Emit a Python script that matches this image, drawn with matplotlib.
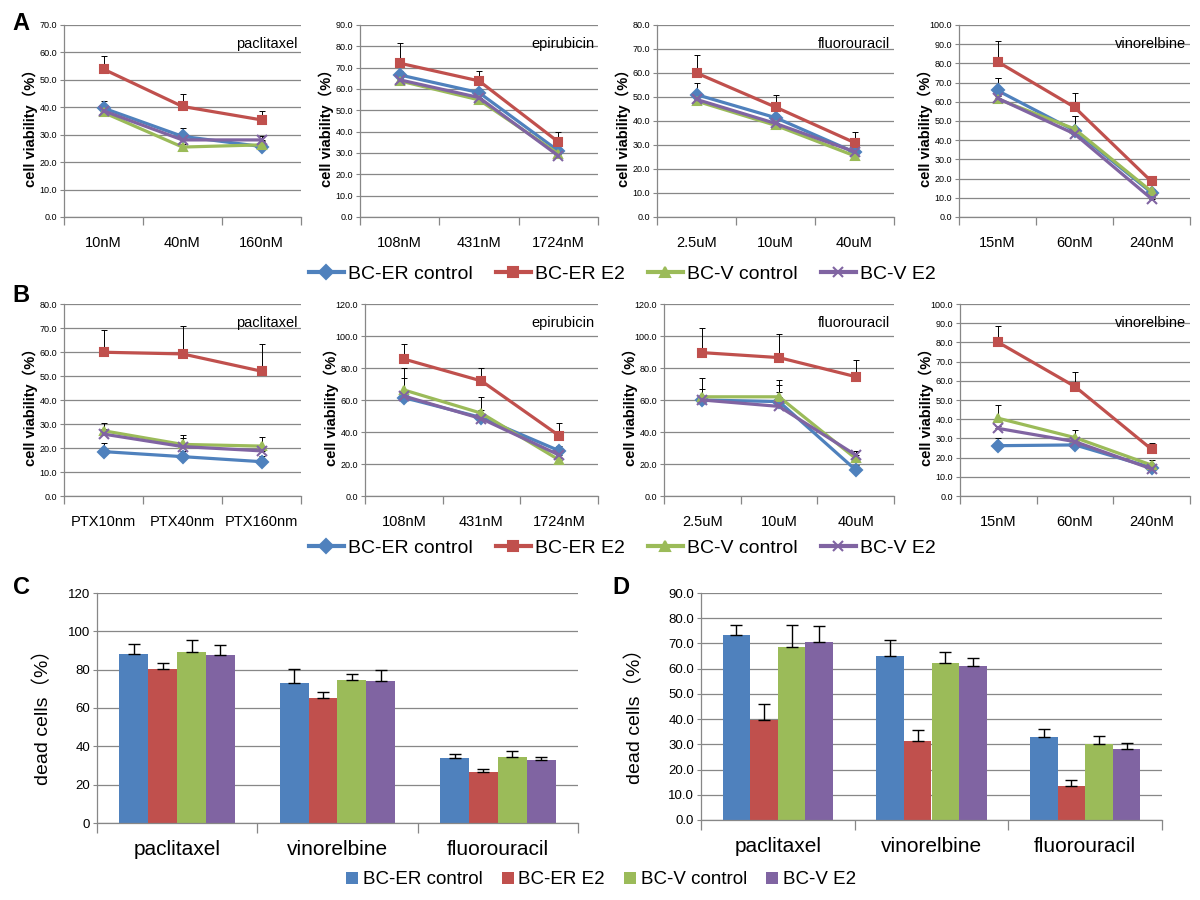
import matplotlib.pyplot as plt
import numpy as np

# series names and colours (Excel 2007 palette)
groups = ['BC-ER control', 'BC-ER E2', 'BC-V control', 'BC-V E2']
colors = ['#4F81BD', '#C0504D', '#9BBB59', '#8064A2']
markers = ['D', 's', '^', 'x']

# ---- panel A / B : cell viability (%) ----
line_drugs = ['paclitaxel', 'epirubicin', 'fluorouracil', 'vinorelbine']
a_doses = [['10nM', '40nM', '160nM'], ['108nM', '431nM', '1724nM'],
           ['2.5uM', '10uM', '40uM'], ['15nM', '60nM', '240nM']]
b_doses = [['PTX10nm', 'PTX40nm', 'PTX160nm'], ['108nM', '431nM', '1724nM'],
           ['2.5uM', '10uM', '40uM'], ['15nM', '60nM', '240nM']]
a_ymax = [70, 90, 80, 100]
a_ystep = [10, 10, 10, 10]
b_ymax = [80, 120, 120, 100]
b_ystep = [10, 20, 20, 10]

a_er_ctrl = [[39.7, 29.4, 25.7], [66.6, 58.3, 31.0], [51.0, 41.4, 27.0], [65.9, 45.0, 12.7]]
a_er_e2 = [[53.9, 40.3, 35.4], [72.1, 63.8, 35.2], [60.0, 45.8, 31.0], [80.9, 57.2, 18.5]]
a_v_ctrl = [[38.1, 25.5, 26.3], [63.8, 54.9, 29.6], [48.3, 38.2, 25.5], [61.5, 45.9, 13.3]]
a_v_e2 = [[38.7, 28.1, 28.1], [64.3, 56.0, 28.7], [49.0, 39.0, 27.2], [61.9, 43.3, 9.5]]
a_er_ctrl_err = [[2.5, 3.0, 1.5], [2.0, 1.5, 1.5], [5.0, 1.5, 1.5], [6.5, 7.5, 1.5]]
a_er_e2_err = [[4.8, 4.6, 3.1], [9.4, 4.7, 4.7], [7.6, 5.0, 4.4], [11.0, 7.4, 2.0]]
a_v_ctrl_err = [[1.5, 1.0, 1.5], [1.0, 1.0, 1.0], [1.0, 1.0, 1.0], [11.0, 6.5, 1.5]]
a_v_e2_err = [[2.0, 1.5, 1.5], [1.0, 1.0, 1.0], [1.0, 1.0, 1.0], [1.0, 1.0, 1.0]]

b_er_ctrl = [[18.5, 16.4, 14.3], [61.5, 49.0, 28.3], [60.0, 59.0, 16.3], [26.2, 26.6, 14.8]]
b_er_e2 = [[59.9, 59.2, 52.0], [85.6, 71.9, 37.7], [89.6, 86.5, 74.6], [80.0, 57.0, 24.3]]
b_v_ctrl = [[27.2, 21.5, 20.8], [66.3, 51.7, 22.5], [62.0, 62.0, 23.5], [40.5, 30.4, 16.1]]
b_v_e2 = [[25.8, 20.6, 18.8], [62.5, 48.3, 25.6], [60.0, 56.0, 25.6], [35.2, 28.3, 14.1]]
b_er_ctrl_err = [[3.5, 2.5, 2.5], [1.5, 1.5, 2.7], [6.7, 10.4, 3.1], [3.8, 1.5, 1.5]]
b_er_e2_err = [[9.3, 11.6, 11.5], [9.4, 8.3, 7.9], [15.2, 15.0, 10.2], [8.4, 7.8, 3.5]]
b_v_ctrl_err = [[3.4, 3.9, 3.6], [13.9, 10.0, 1.5], [12.0, 10.5, 4.8], [6.9, 4.0, 2.7]]
b_v_e2_err = [[2.0, 3.4, 1.5], [11.0, 5.5, 1.5], [1.5, 9.0, 2.7], [1.5, 1.5, 1.5]]

# ---- panel C / D : dead cells (%) ----
bar_drugs = ['paclitaxel', 'vinorelbine', 'fluorouracil']
c_er_ctrl = [88.3, 73.3, 33.8]
c_er_e2 = [80.1, 65.0, 26.4]
c_v_ctrl = [89.3, 74.6, 34.3]
c_v_e2 = [87.9, 74.0, 32.9]
c_er_ctrl_err = [5.2, 7.3, 2.1]
c_er_e2_err = [3.3, 3.5, 1.7]
c_v_ctrl_err = [6.2, 2.9, 3.3]
c_v_e2_err = [5.2, 5.8, 1.3]

d_er_ctrl = [73.5, 65.2, 33.0]
d_er_e2 = [39.7, 31.5, 13.6]
d_v_ctrl = [68.4, 62.2, 30.2]
d_v_e2 = [70.5, 60.9, 28.2]
d_er_ctrl_err = [3.9, 6.1, 3.0]
d_er_e2_err = [6.2, 4.1, 2.3]
d_v_ctrl_err = [9.0, 4.6, 3.2]
d_v_e2_err = [6.4, 3.3, 2.5]

W, H = 1200, 900
NARROW = ['Liberation Sans Narrow', 'Liberation Sans', 'DejaVu Sans']
SANS = ['Liberation Sans', 'Noto Sans CJK SC', 'DejaVu Sans']
GRID = '#878787'

plt.rcParams['font.family'] = SANS


def rect(l, t, r, b):
    return [l / W, 1 - b / H, (r - l) / W, (b - t) / H]


def style_axis(ax, ncat, ymax, ystep, fmt, tick_font, tick_size, catpad):
    ax.set_xlim(-0.5, ncat - 0.5)
    ax.set_ylim(0, ymax)
    yt = np.arange(0, ymax + 0.01, ystep)
    ax.set_yticks(yt)
    ax.set_yticklabels([fmt.format(v) for v in yt], family=tick_font, fontsize=tick_size)
    ax.yaxis.grid(True, color=GRID, lw=0.9)
    ax.set_axisbelow(True)
    for s in ['top', 'right']:
        ax.spines[s].set_visible(False)
    for s in ['left', 'bottom']:
        ax.spines[s].set_color(GRID)
        ax.spines[s].set_linewidth(0.9)
    ax.tick_params(axis='y', length=3, color=GRID, pad=2)
    ax.set_xticks(np.arange(ncat))
    ax.set_xticks(np.arange(ncat + 1) - 0.5, minor=True)
    ax.tick_params(axis='x', which='major', length=0, pad=catpad)
    ax.tick_params(axis='x', which='minor', length=6, color=GRID, width=0.9)


def line_panel(rc, doses, drug, ymax, ystep, series, errs):
    ax = fig.add_axes(rect(*rc))
    x = np.arange(len(doses))
    for vals, err, c, m in zip(series, errs, colors, markers):
        ax.errorbar(x, vals, yerr=[np.zeros(len(err)), err], fmt='none',
                    ecolor='black', elinewidth=0.7, capsize=2, capthick=0.7, zorder=3)
        ax.plot(x, vals, color=c, marker=m, lw=2.3, ms=6 if m != 'x' else 7,
                mew=1.5, zorder=4)
    style_axis(ax, len(doses), ymax, ystep, '{:.1f}', NARROW, 6.5, 14)
    ax.set_xticklabels(doses, family=NARROW, fontsize=10.5)
    ax.text(0.985, 0.9, drug, transform=ax.transAxes, ha='right', va='center',
            family=NARROW, fontsize=10.5)
    l, t, r, b = rc
    fig.text((l - 34) / W, 1 - ((t + b) / 2 + 4) / H, 'cell viability（%）',
             rotation=90, ha='center', va='center', fontsize=10.5, fontweight='bold',
             family=SANS)
    return ax


def bar_panel(rc, ymax, ystep, fmt, series, errs, label_x):
    ax = fig.add_axes(rect(*rc))
    x = np.arange(len(bar_drugs))
    w = 0.18
    for i, (vals, err, c) in enumerate(zip(series, errs, colors)):
        xs = x + (i - 1.5) * w
        ax.bar(xs, vals, width=w, color=c, label=groups[i], zorder=2)
        ax.errorbar(xs, vals, yerr=[np.zeros(len(err)), err], fmt='none',
                    ecolor='black', elinewidth=1.0, capsize=4, capthick=1.0, zorder=3)
    style_axis(ax, len(bar_drugs), ymax, ystep, fmt, SANS, 9.5, 12)
    ax.set_xticklabels(bar_drugs, fontsize=15)
    ax.tick_params(axis='x', which='minor', length=7)
    l, t, r, b = rc
    fig.text(label_x / W, 1 - ((t + b) / 2 + 5) / H, 'dead cells（%）',
             rotation=90, ha='center', va='center', fontsize=14, family=SANS)
    return ax


fig = plt.figure(figsize=(12, 9), dpi=100)

a_rects = [(64, 25, 301, 217), (360, 25, 598, 217), (657, 25, 894, 217), (959, 25, 1190, 217)]
b_rects = [(64, 304, 301, 496), (365, 304, 598, 496), (664, 304, 894, 496), (960, 304, 1190, 496)]

for k in range(4):
    line_panel(a_rects[k], a_doses[k], line_drugs[k], a_ymax[k], a_ystep[k],
               [a_er_ctrl[k], a_er_e2[k], a_v_ctrl[k], a_v_e2[k]],
               [a_er_ctrl_err[k], a_er_e2_err[k], a_v_ctrl_err[k], a_v_e2_err[k]])
    line_panel(b_rects[k], b_doses[k], line_drugs[k], b_ymax[k], b_ystep[k],
               [b_er_ctrl[k], b_er_e2[k], b_v_ctrl[k], b_v_e2[k]],
               [b_er_ctrl_err[k], b_er_e2_err[k], b_v_ctrl_err[k], b_v_e2_err[k]])

handles = [plt.Line2D([], [], color=c, marker=m, lw=3, ms=7, mew=1.5) for c, m in zip(colors, markers)]
for yc in [274, 548]:
    fig.legend(handles, groups, loc='center', bbox_to_anchor=(622 / W, 1 - yc / H), ncol=4,
               frameon=False, fontsize=14, handlelength=1.8, handletextpad=0.2,
               columnspacing=1.2, borderpad=0)

ax_c = bar_panel((97, 593, 578, 823), 120, 20, '{:.0f}',
                 [c_er_ctrl, c_er_e2, c_v_ctrl, c_v_e2],
                 [c_er_ctrl_err, c_er_e2_err, c_v_ctrl_err, c_v_e2_err], 43)
ax_d = bar_panel((701, 593, 1162, 820), 90, 10, '{:.1f}',
                 [d_er_ctrl, d_er_e2, d_v_ctrl, d_v_e2],
                 [d_er_ctrl_err, d_er_e2_err, d_v_ctrl_err, d_v_e2_err], 635)

h, lab = ax_c.get_legend_handles_labels()
fig.legend(h, lab, loc='center', bbox_to_anchor=(601 / W, 1 - 880 / H), ncol=4,
           frameon=False, fontsize=13.5, handlelength=0.65, handleheight=0.65,
           handletextpad=0.25, columnspacing=1.0, borderpad=0)

for letter, (px, py) in zip('ABCD', [(21, 24), (21, 295), (21, 588), (621, 588)]):
    fig.text(px / W, 1 - py / H, letter, ha='center', va='center',
             fontsize=17, fontweight='bold', family=SANS)

plt.savefig('out.png', dpi=100, facecolor='white')
plt.close()
